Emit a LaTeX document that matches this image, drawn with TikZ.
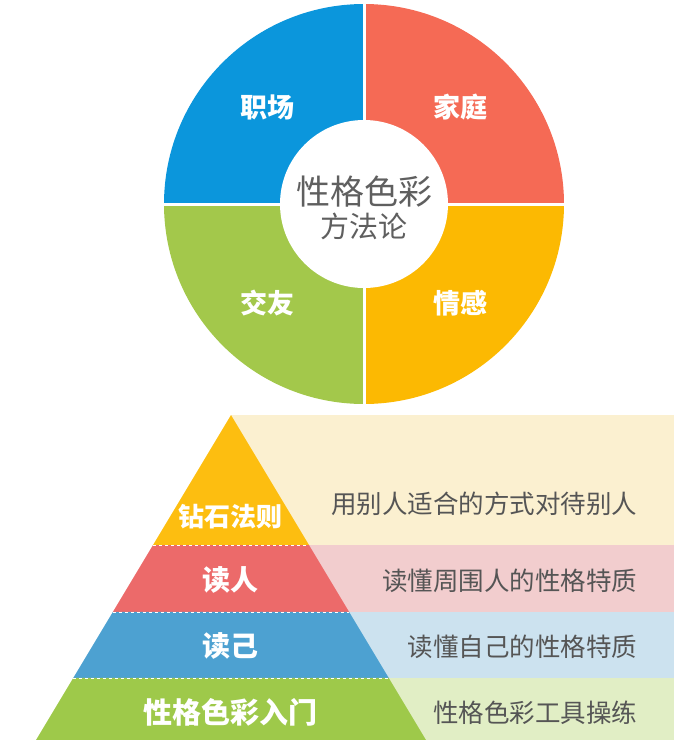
\documentclass[tikz,border=0pt]{standalone}
\usepackage{fontspec}
\setmainfont{Noto Sans CJK SC}
\usetikzlibrary{calc,positioning}

\definecolor{circblue}{HTML}{0B96DC}
\definecolor{circred}{HTML}{F56A55}
\definecolor{circyellow}{HTML}{FCB902}
\definecolor{circgreen}{HTML}{A3C84B}
\definecolor{pyryellow}{HTML}{FDBE10}
\definecolor{pyrred}{HTML}{EC6A6A}
\definecolor{pyrblue}{HTML}{4DA1D1}
\definecolor{pyrgreen}{HTML}{9EC94A}
\definecolor{creambg}{HTML}{FBF0D0}
\definecolor{pinkbg}{HTML}{F2CDCE}
\definecolor{bluebg}{HTML}{CCE2EF}
\definecolor{greenbg}{HTML}{E1EEC5}
\definecolor{notegray}{HTML}{555555}
\definecolor{centergray}{HTML}{5F5F5F}

\begin{document}
\begin{tikzpicture}
[x=1pt,y=-1pt,
sector/.style={text=white,font=\fontsize{27}{30}\selectfont\bfseries},
level/.style={text=white,font=\fontsize{28}{32}\selectfont\bfseries},
note/.style={anchor=east,text=notegray,font=\fontsize{25.5}{30}\selectfont},
gap/.style={draw=white,line width=3pt},
sep/.style={draw=white,dashed,line width=0.8pt}]

\useasboundingbox (0,0) rectangle (674,740);

% the colour wheel
\coordinate (o) at (364,204);
\begin{scope}
\clip (o) circle (200);
\fill[circblue] (o) rectangle ++(-200,-200);
\fill[circred] (o) rectangle ++(200,-200);
\fill[circyellow] (o) rectangle ++(200,200);
\fill[circgreen] (o) rectangle ++(-200,200);
\draw[gap] ($(o)+(0,-200)$) -- ($(o)+(0,200)$);
\draw[gap] ($(o)+(-200,0)$) -- ($(o)+(200,0)$);
\end{scope}
\fill[white] (o) circle (84);

\node[sector] (work) at (267,107) {职场};
\node[sector] (family) at (460,107) {家庭};
\node[sector] (friends) at (267,303) {交友};
\node[sector] (love) at (460,303) {情感};

\node[text=centergray,font=\fontsize{34}{38}\selectfont] (title) at (364,192) {性格色彩};
\node[text=centergray,font=\fontsize{29}{32}\selectfont] (method) [below=-2pt of title] {方法论};

% the pyramid
\coordinate (apex) at (231,415);
\coordinate (bl) at (36,740);
\coordinate (br) at (426,740);

\fill[creambg] (231,415) rectangle (674,545);
\fill[pinkbg] (231,545) rectangle (674,612);
\fill[bluebg] (231,612) rectangle (674,678);
\fill[greenbg] (231,678) rectangle (674,740);

\fill[pyryellow] (apex) -- ($(apex)!0.4!(br)$) -- ($(apex)!0.4!(bl)$) -- cycle;
\fill[pyrred] ($(apex)!0.4!(bl)$) -- ($(apex)!0.4!(br)$)
  -- ($(apex)!0.606!(br)$) -- ($(apex)!0.606!(bl)$) -- cycle;
\fill[pyrblue] ($(apex)!0.606!(bl)$) -- ($(apex)!0.606!(br)$)
  -- ($(apex)!0.809!(br)$) -- ($(apex)!0.809!(bl)$) -- cycle;
\fill[pyrgreen] ($(apex)!0.809!(bl)$) -- ($(apex)!0.809!(br)$)
  -- (br) -- (bl) -- cycle;

\foreach \t in {0.4,0.606,0.809}
  \draw[sep] ($(apex)!\t!(bl)$) -- ($(apex)!\t!(br)$);

\node[level,font=\fontsize{26}{30}\selectfont\bfseries] (diamond) at (230,517) {钻石法则};
\node[level] (readothers) at (230,580) {读人};
\node[level] (readself) at (230,646) {读己};
\node[level,font=\fontsize{29}{32}\selectfont\bfseries] (intro) at (230,712) {性格色彩入门};

\node[note] (diamondnote) at (641,504) {用别人适合的方式对待别人};
\node[note] (readothersnote) at (641,581) {读懂周围人的性格特质};
\node[note] (readselfnote) at (641,647) {读懂自己的性格特质};
\node[note] (intronote) at (641,713) {性格色彩工具操练};

\end{tikzpicture}
\end{document}
